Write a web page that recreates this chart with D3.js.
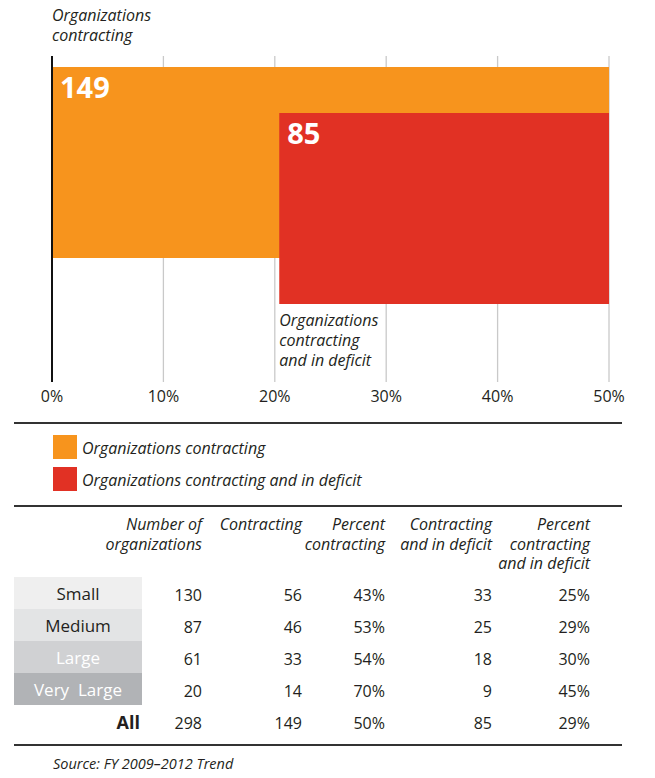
<!DOCTYPE html>
<meta charset="utf-8">
<head>
  <title>Organizations contracting</title>
</head>
<style>
body { margin: 0; background: #fff; }
text { font-family: "Open Sans", "Liberation Sans", sans-serif; fill: #231f20; }
.it { font-style: italic; }
.grid { stroke: #c9c9c9; stroke-width: 1.3; }
.rule { stroke: #333; stroke-width: 2; }
</style>
<body>
<svg width="655" height="778"></svg>
<script src="https://cdnjs.cloudflare.com/ajax/libs/d3/7.8.5/d3.min.js"></script>
<script>
// bars
var series = ["Organizations contracting", "Organizations contracting and in deficit"];
var seriesCounts = [149, 85];
var seriesPct = [50, 29.6];          // bar length
var seriesColors = ["#f7941d", "#e13124"];
var ticks = [0, 10, 20, 30, 40, 50];

// table
var sizes = ["Small", "Medium", "Large", "Very  Large"];
var numOrgs = [130, 87, 61, 20];
var contracting = [56, 46, 33, 14];
var pctContracting = [43, 53, 54, 70];
var deficit = [33, 25, 18, 9];
var pctDeficit = [25, 29, 30, 45];
var allRow = [298, 149, 50, 85, 29];
var headers = [["Number of", "organizations"], ["Contracting"], ["Percent", "contracting"],
               ["Contracting", "and in deficit"], ["Percent", "contracting", "and in deficit"]];
var sizeFill = ["#efefef", "#e3e4e5", "#d0d1d3", "#b1b3b6"];
var sizeText = ["#231f20", "#231f20", "#fff", "#fff"];

var svg = d3.select("svg");

var x = d3.scaleLinear().domain([0, 50]).range([52, 609]);
var yTop = d3.scalePoint().domain(series).range([67, 113]);
var barH = 191;

// grid
svg.selectAll(".grid").data(ticks.slice(1)).enter().append("line")
  .attr("class", "grid")
  .attr("x1", d => x(d)).attr("x2", d => x(d))
  .attr("y1", 56).attr("y2", 382);

// bars, right aligned on the 50% line
var bars = svg.selectAll(".bar").data(series).enter().append("g").attr("class", "bar");
bars.append("rect")
  .attr("x", (d, i) => x(50 - seriesPct[i]))
  .attr("y", d => yTop(d))
  .attr("width", (d, i) => x(seriesPct[i]) - x(0))
  .attr("height", barH)
  .attr("fill", (d, i) => seriesColors[i]);
bars.append("text")
  .attr("x", (d, i) => x(50 - seriesPct[i]) + 8)
  .attr("y", d => yTop(d) + 31)
  .attr("font-size", 29).attr("font-weight", 700)
  .style("fill", "#fff")
  .text((d, i) => seriesCounts[i]);

// zero axis
svg.append("line").attr("x1", x(0)).attr("x2", x(0)).attr("y1", 56).attr("y2", 382)
  .attr("stroke", "#111").attr("stroke-width", 2);

svg.selectAll(".tick").data(ticks).enter().append("text")
  .attr("x", d => x(d)).attr("y", 402)
  .attr("text-anchor", "middle").attr("font-size", 16)
  .text(d => d + "%");

// annotations
svg.append("text").attr("class", "it").attr("font-size", 16)
  .selectAll("tspan").data(["Organizations", "contracting"]).enter().append("tspan")
  .attr("x", x(0)).attr("y", (d, i) => 21 + i * 20).text(d => d);
svg.append("text").attr("class", "it").attr("font-size", 16)
  .selectAll("tspan").data(["Organizations", "contracting", "and in deficit"]).enter().append("tspan")
  .attr("x", x(50 - seriesPct[1])).attr("y", (d, i) => 326 + i * 20).text(d => d);

// rules
[[423, 14, 622], [506, 14, 622], [745, 14, 622]].forEach(function(r) {
  svg.append("line").attr("class", "rule").attr("x1", r[1]).attr("x2", r[2]).attr("y1", r[0]).attr("y2", r[0]);
});

// legend
var leg = svg.selectAll(".leg").data(series).enter().append("g")
  .attr("transform", (d, i) => "translate(53," + (435 + i * 32) + ")");
leg.append("rect").attr("width", 24).attr("height", 24).attr("fill", (d, i) => seriesColors[i]);
leg.append("text").attr("class", "it").attr("x", 29).attr("y", 19).attr("font-size", 16).text(d => d);

// table
var colRight = [202, 302, 385, 492, 590];
headers.forEach(function(h, c) {
  svg.append("text").attr("class", "it").attr("font-size", 16).attr("text-anchor", "end")
    .selectAll("tspan").data(h).enter().append("tspan")
    .attr("x", colRight[c]).attr("y", (d, i) => 530 + i * 19.5).text(d => d);
});

var rowY = d3.scaleBand().domain(sizes.concat(["All"])).range([577, 737]);
var rows = sizes.map(function(s, i) {
  return [numOrgs[i], contracting[i], pctContracting[i] + "%", deficit[i], pctDeficit[i] + "%"];
});
rows.push([allRow[0], allRow[1], allRow[2] + "%", allRow[3], allRow[4] + "%"]);

svg.selectAll(".cell").data(sizes).enter().append("rect")
  .attr("x", 14).attr("width", 128)
  .attr("y", d => rowY(d)).attr("height", rowY.bandwidth())
  .attr("fill", (d, i) => sizeFill[i]);
svg.selectAll(".sz").data(sizes).enter().append("text")
  .attr("x", 78).attr("y", d => rowY(d) + 23)
  .attr("text-anchor", "middle").attr("font-size", 17)
  .attr("xml:space", "preserve")
  .style("fill", (d, i) => sizeText[i])
  .text(d => d);
svg.append("text").attr("x", 140).attr("y", rowY("All") + 24)
  .attr("text-anchor", "end").attr("font-size", 18).attr("font-weight", 700).text("All");

var labels = sizes.concat(["All"]);
rows.forEach(function(r, i) {
  svg.selectAll(null).data(r).enter().append("text")
    .attr("x", (d, c) => colRight[c]).attr("y", rowY(labels[i]) + 24)
    .attr("text-anchor", "end").attr("font-size", 16)
    .text(d => d);
});

svg.append("text").attr("class", "it").attr("x", 53).attr("y", 769).attr("font-size", 14.5)
  .text("Source: FY 2009\u20132012 Trend");
</script>
</body>
</html>
